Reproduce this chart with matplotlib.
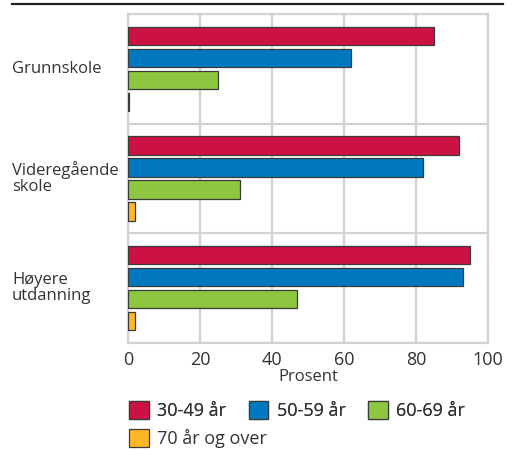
import matplotlib.pyplot as plt
import matplotlib.patches as mpatches
from matplotlib.lines import Line2D
import numpy as np

plt.rcParams['font.family'] = ['Open Sans', 'DejaVu Sans']

# education levels and age groups
categories = ['Grunnskole', 'Videregående\nskole', 'Høyere\nutdanning']
age_groups = ['30-49 år', '50-59 år', '60-69 år', '70 år og over']
colors = ['#cc1242', '#0079c1', '#8dc63f', '#fdb827']

# share in percent, one list per age group
v_30_49 = [85, 92, 95]
v_50_59 = [62, 82, 93]
v_60_69 = [25, 31, 47]
v_70_up = [0.3, 2, 2]
series = [v_30_49, v_50_59, v_60_69, v_70_up]

W, H = 512, 451
fig = plt.figure(figsize=(W / 100, H / 100), dpi=100)
ax = fig.add_axes([128 / W, 1 - 343 / H, 360 / W, 329 / H])

grid_c = '#d2d2d2'
bar_h = 0.168
for i, (vals, col) in enumerate(zip(series, colors)):
    ypos = np.arange(len(categories)) + 0.2 * (i + 1)
    ax.barh(ypos, vals, height=bar_h, color=col, edgecolor='#3a3a3a',
            linewidth=0.9, zorder=3)

ax.set_xlim(0, 100)
ax.set_ylim(len(categories), 0)
ax.set_xticks(np.arange(0, 101, 20))
ax.set_yticks(np.arange(0, len(categories) + 1))
ax.set_yticklabels([])
ax.grid(True, color=grid_c, linewidth=1.6, zorder=0)
ax.tick_params(length=0, labelsize=13, colors='#333333', pad=6)
for s in ax.spines.values():
    s.set_color(grid_c)
    s.set_linewidth(1.6)
ax.set_xlabel('Prosent', fontsize=12, color='#333333', labelpad=0)

# category labels, left aligned in the margin
for k, cat in enumerate(categories):
    ax.text(-116 / 3.6, k + 0.5, cat, ha='left', va='center', fontsize=12,
            color='#333333', linespacing=1.0, transform=ax.transData)

# rule across the top
fig.add_artist(Line2D([12 / W, 503 / W], [1 - 4 / H, 1 - 4 / H],
                      color='#222222', linewidth=1.6))

# legend: three entries on the first row, the last one underneath
handles = [mpatches.Patch(facecolor=c, edgecolor='#3a3a3a', linewidth=0.9)
           for c in colors]
leg_kw = dict(loc='upper left', frameon=False, fontsize=13,
              handlelength=1.1, handleheight=1.15, handletextpad=0.45,
              columnspacing=1.25, borderaxespad=0, borderpad=0,
              labelcolor='#333333')
leg1 = fig.legend(handles[:3], age_groups[:3], ncol=3,
                  bbox_to_anchor=(129 / W, 1 - 401 / H), **leg_kw)
fig.add_artist(leg1)
fig.legend(handles[3:], age_groups[3:], ncol=1,
           bbox_to_anchor=(129 / W, 1 - 429 / H), **leg_kw)

fig.savefig('out.png', dpi=100)
